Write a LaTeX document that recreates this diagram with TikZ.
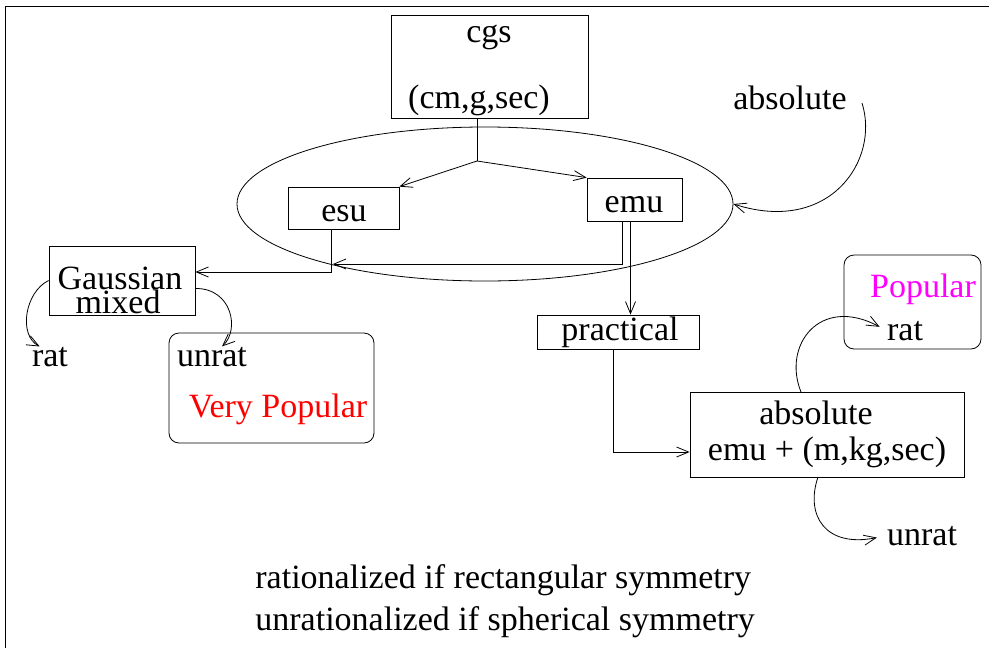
\documentclass[tikz,border=0pt]{standalone}
\usepackage{fontspec}
\setmainfont{Liberation Serif}
\usetikzlibrary{arrows.meta,shapes.geometric}
\definecolor{verypop}{RGB}{255,0,0}
\definecolor{pop}{RGB}{255,0,255}

\begin{document}
\begin{tikzpicture}[x=0.5pt,y=-0.5pt,
  font=\fontsize{17}{20}\selectfont,
  box/.style={draw,inner sep=0pt},
  rbox/.style={draw,rounded corners=5pt,inner sep=0pt},
  txt/.style={anchor=base,inner sep=0pt},
  >={Straight Barb[length=6pt,width=5pt]}]

\useasboundingbox (0,0) rectangle (989,648);
\draw (5,648) -- (5,6) -- (989,6);

\node[box,minimum width=98.5pt,minimum height=51.5pt] (cgs) at (489.5,66.5) {};
\node[txt] (cgstxt) at (489,42) {cgs};
\node[txt] (cgsunits) at (479,108) {(cm,g,sec)};

\node[draw,ellipse,inner sep=0pt,minimum width=248pt,minimum height=77pt] (ell) at (485,204) {};

\node[box,minimum width=55.5pt,minimum height=21pt] (esu) at (343.5,208) {};
\node[txt] (esutxt) at (344,221) {esu};
\node[box,minimum width=47.5pt,minimum height=21.5pt] (emu) at (634.5,199.5) {};
\node[txt] (emutxt) at (634,212) {emu};

\node[box,minimum width=73pt,minimum height=34.5pt] (gauss) at (122,280.5) {};
\node[txt] (gausstxt) at (120,289) {Gaussian};
\node[txt] (mixedtxt) at (118,313) {mixed};
\node[txt] (ratL) at (50,366) {rat};
\node[txt] (unratL) at (212,366) {unrat};
\node[rbox,minimum width=102.5pt,minimum height=55pt] (vpop) at (271.5,388) {};
\node[txt,text=verypop] (vpoptxt) at (278,417) {Very Popular};

\node[box,minimum width=81pt,minimum height=17pt] (practical) at (618,332) {};
\node[txt] (practxt) at (620,340) {practical};

\node[box,minimum width=137pt,minimum height=42.5pt] (absbox) at (827,434.5) {};
\node[txt] (abstxt) at (816,424) {absolute};
\node[txt] (emumks) at (827,460) {emu + (m,kg,sec)};

\node[rbox,minimum width=68.5pt,minimum height=47pt] (popbox) at (912.5,302) {};
\node[txt,text=pop] (poptxt) at (923,297) {Popular};
\node[txt] (ratR) at (905,340) {rat};
\node[txt] (unratR) at (922,545) {unrat};

\node[txt] (abslbl) at (790,109) {absolute};

\node[txt,anchor=base west] (ratnote) at (255,588) {rationalized if rectangular symmetry};
\node[txt,anchor=base west] (unratnote) at (255,630) {unrationalized if spherical symmetry};

\coordinate (split) at (477,161);
\coordinate (esudrop) at (331,272);
\coordinate (emudrop) at (622,264);
\coordinate (esuhit) at (333,264);
\coordinate (prturn) at (613,452);
\coordinate (abstail) at (862,103);
\coordinate (absup) at (801,392);
\coordinate (absdown) at (818,477);

\draw (split |- cgs.south) -- (split);
\draw[->] (split) -- (esu.north east);
\draw[->] (split) -- (emu.north west);
\draw[->] (esudrop |- esu.south) -- (esudrop) -- (gauss.east |- esudrop);
\draw[->] (emudrop |- emu.south) -- (emudrop) -- (esuhit);
\draw[->] ([xshift=-2pt]emu.south) -- ([xshift=-2pt]emu.south |- practical.north);
\draw[->] (prturn |- practical.south) -- (prturn) -- (absbox.west |- prturn);

\draw[->] (gauss.west) .. controls (25,292) and (18,335) .. ([xshift=4pt]ratL.north west);
\draw[->] ([yshift=-4pt]gauss.east) .. controls (232,288) and (240,330) .. ([xshift=5pt]unratL.north);
\draw[->] (abstail) .. controls (880,160) and (830,235) .. (ell.east);
\draw[->,shorten >=4pt] (absup) .. controls (782,345) and (820,295) .. (ratR.west);
\draw[->,shorten >=5pt] (absdown) .. controls (805,515) and (825,548) .. (unratR.west);
\end{tikzpicture}
\end{document}
